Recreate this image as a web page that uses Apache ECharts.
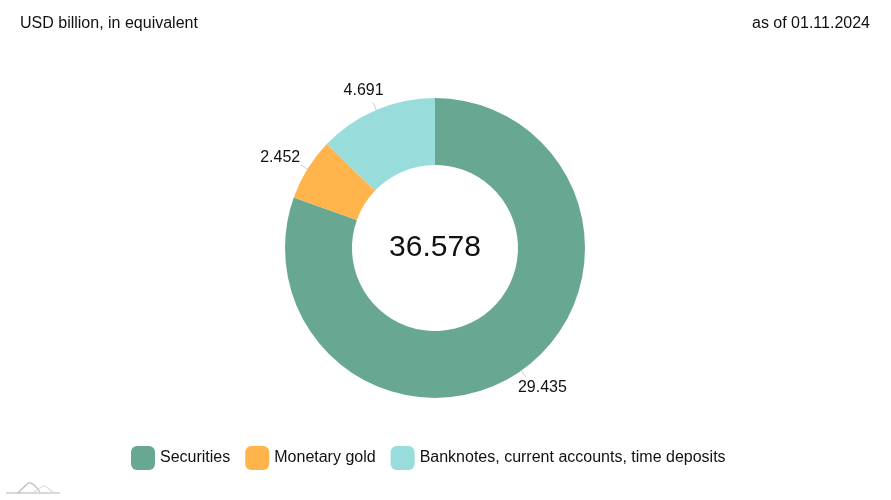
<!DOCTYPE html>
<html><head><meta charset="utf-8">
<script src="https://cdn.jsdelivr.net/npm/echarts@6/dist/echarts.min.js"></script>
<style>html,body{margin:0;padding:0;background:#fff}#c{width:891px;height:500px}</style>
</head><body><div id="c"></div>
<script>
const categories = ['Securities', 'Monetary gold', 'Banknotes, current accounts, time deposits'];
const values = [29.435, 2.452, 4.691];
const totalLabel = '36.578';
const colors = ['#68a893', '#ffb54c', '#98dcdc'];
const chart = echarts.init(document.getElementById('c'));
const font = 'Liberation Sans, Arial, sans-serif';
const CX = 435, CY = 248, R0 = 83, R1 = 150;
chart.setOption({
  animation: false,
  color: colors,
  title: [
    {text: 'USD billion, in equivalent', left: 15, top: 11, textStyle: {fontFamily: font, fontSize: 16, fontWeight: 'normal', color: '#111'}},
    {text: 'as of 01.11.2024', right: 16, top: 11, textStyle: {fontFamily: font, fontSize: 16, fontWeight: 'normal', color: '#111'}}
  ],
  legend: {
    data: categories, left: 126, top: 441, itemWidth: 24, itemHeight: 24, itemGap: 15,
    icon: 'roundRect', textStyle: {fontFamily: font, fontSize: 16, color: '#111'}
  },
  series: [{
    type: 'pie', center: [CX, CY], radius: [R0, R1], startAngle: 90, clockwise: true,
    label: {show: true, formatter: p => p.value.toFixed(3), fontFamily: font, fontSize: 16, color: '#111'},
    labelLine: {show: true, length: 8, length2: 0, lineStyle: {color: '#ccc', width: 1}},
    labelLayout: function (p) {
      const pt = p.labelLinePoints[0];
      let dx = pt[0] - CX, dy = pt[1] - CY;
      const L = Math.sqrt(dx * dx + dy * dy); dx /= L; dy /= L;
      const a = [CX + dx * R1, CY + dy * R1];
      const e = [CX + dx * (R1 + 8), CY + dy * (R1 + 8)];
      const hw = p.labelRect.width / 2, hh = p.labelRect.height / 2;
      return {
        x: e[0] + dx * (hw + 4), y: e[1] + dy * (hh + 5),
        align: 'center', verticalAlign: 'middle',
        labelLinePoints: [a, e, e]
      };
    },
    data: categories.map((c, i) => ({name: c, value: values[i]}))
  }],
  graphic: [
    {type: 'text', style: {text: totalLabel, x: CX, y: CY, align: 'center', verticalAlign: 'middle', fontFamily: font, fontSize: 30, fill: '#111'}},
    {type: 'line', shape: {x1: 6, y1: 493, x2: 60, y2: 493}, style: {stroke: '#ccc', lineWidth: 1.5}},
    {type: 'polyline', shape: {points: [[18,493],[24,487],[29,483],[34,485],[40,492]], smooth: 0.4}, style: {stroke: '#bbb', lineWidth: 1.2, fill: null}},
    {type: 'polyline', shape: {points: [[34,492],[40,488],[45,486],[49,489],[54,493]], smooth: 0.4}, style: {stroke: '#ddd', lineWidth: 1.2, fill: null}}
  ]
});
</script></body></html>
